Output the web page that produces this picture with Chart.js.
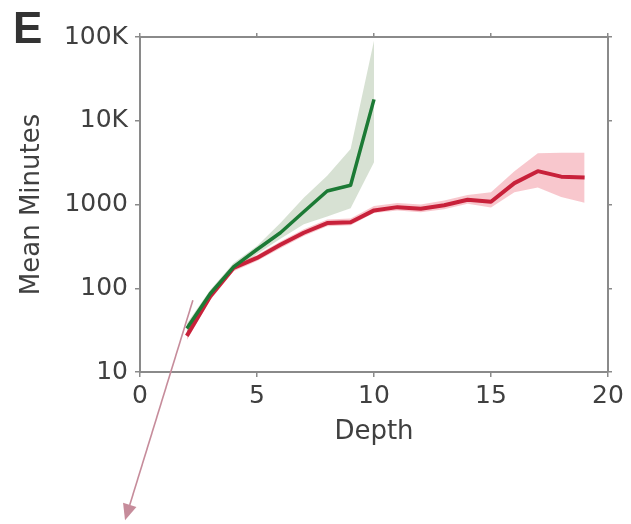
<!DOCTYPE html>
<html>
<head>
<meta charset="utf-8">
<script src="https://cdn.jsdelivr.net/npm/chart.js@4"></script>
<style>
  html, body { margin: 0; padding: 0; background: #fff; }
  #wrap { width: 631px; height: 524px; }
</style>
</head>
<body>
<div id="wrap"><canvas id="myChart" width="631" height="524"></canvas></div>
<script>
// datos
const depthGreen = [2, 3, 4, 5, 6, 7, 8, 9, 10];
const greenMean = [33, 86, 180, 290, 460, 820, 1450, 1700, 18000];
const greenLow = [29, 76, 165, 255, 390, 580, 720, 900, 3200];
const greenHigh = [38, 95, 200, 320, 600, 1200, 2200, 4600, 90000];

const depthRed = [2, 3, 4, 5, 6, 7, 8, 9, 10, 11, 12, 13, 14, 15, 16, 17, 18, 19];
const redMean = [27, 80, 175, 230, 330, 460, 600, 615, 850, 930, 890, 980, 1140, 1080, 1800, 2500, 2150, 2100];
const redLow = [24, 72, 160, 212, 300, 420, 550, 565, 790, 850, 810, 880, 1020, 920, 1400, 1600, 1230, 1050];
const redHigh = [31, 88, 192, 250, 362, 505, 660, 680, 960, 1040, 1000, 1120, 1300, 1400, 2500, 4100, 4150, 4150];

const xTicks = [0, 5, 10, 15, 20];
const yTickValues = [10, 100, 1000, 10000, 100000];
const yTickLabels = ["10", "100", "1000", "10K", "100K"];

// flecha de anotacion (en unidades de datos)
const arrowFrom = { x: 2.26, y: 72 };
const arrowTo = { x: -0.64, y: 0.17 };

(() => {
    const ctx = document.getElementById('myChart').getContext('2d');
    const toPts = (xs, ys) => xs.map((x, i) => ({ x: x, y: ys[i] }));

    const axisColor = '#8a8a8a';
    const textColor = '#404040';
    const fontFam = '"DejaVu Sans", sans-serif';

    const band = (data, color, fill) => ({
        data: data,
        borderWidth: 0,
        pointRadius: 0,
        backgroundColor: color,
        fill: fill,
        tension: 0
    });

    const extras = {
        id: 'extras',
        afterDraw(chart) {
            const c = chart.ctx;
            const xs = chart.scales.x, ys = chart.scales.y;
            // letra del panel
            c.save();
            c.fillStyle = '#333';
            c.font = 'bold 44px "Liberation Sans", sans-serif';
            c.textBaseline = 'alphabetic';
            c.fillText('E', 13, 43);
            // flecha
            const x1 = xs.getPixelForValue(arrowFrom.x), y1 = ys.getPixelForValue(arrowFrom.y);
            const x2 = xs.getPixelForValue(arrowTo.x), y2 = ys.getPixelForValue(arrowTo.y);
            const ang = Math.atan2(y2 - y1, x2 - x1);
            const headLen = 16, headW = 7;
            const bx = x2 - headLen * Math.cos(ang), by = y2 - headLen * Math.sin(ang);
            c.strokeStyle = '#c68c9b';
            c.fillStyle = '#c68c9b';
            c.lineWidth = 1.6;
            c.beginPath();
            c.moveTo(x1, y1);
            c.lineTo(bx, by);
            c.stroke();
            c.beginPath();
            c.moveTo(x2, y2);
            c.lineTo(bx + headW * Math.sin(ang), by - headW * Math.cos(ang));
            c.lineTo(bx - headW * Math.sin(ang), by + headW * Math.cos(ang));
            c.closePath();
            c.fill();
            c.restore();
        }
    };

    const grafica = new Chart(ctx, {
        type: 'line',
        data: {
            datasets: [
                Object.assign(band(toPts(depthGreen, greenHigh), 'rgba(175,195,168,0.5)', '+1'), { order: 5 }),
                Object.assign(band(toPts(depthGreen, greenLow), 'rgba(0,0,0,0)', false), { order: 5 }),
                Object.assign(band(toPts(depthRed, redHigh), 'rgba(240,130,145,0.45)', '+1'), { order: 4 }),
                Object.assign(band(toPts(depthRed, redLow), 'rgba(0,0,0,0)', false), { order: 4 }),
                {
                    data: toPts(depthRed, redMean),
                    borderColor: '#c8213a',
                    borderWidth: 4,
                    pointRadius: 0,
                    fill: false,
                    tension: 0,
                    borderJoinStyle: 'round',
                    order: 2
                },
                {
                    data: toPts(depthGreen, greenMean),
                    borderColor: '#1c7a35',
                    borderWidth: 3.5,
                    pointRadius: 0,
                    fill: false,
                    tension: 0,
                    borderJoinStyle: 'round',
                    order: 1
                }
            ]
        },
        options: {
            responsive: false,
            animation: false,
            events: [],
            layout: { padding: { left: 0, top: 37, right: 23, bottom: 72 } },
            plugins: {
                legend: { display: false },
                tooltip: { enabled: false }
            },
            scales: {
                x: {
                    type: 'linear',
                    position: 'bottom',
                    min: 0, max: 20,
                    afterBuildTicks: (s) => { s.ticks = xTicks.map(v => ({ value: v })); },
                    afterFit: (s) => { s.height = 80; },
                    grid: { drawOnChartArea: false, tickLength: 5, color: axisColor, lineWidth: 1.5 },
                    border: { color: axisColor, width: 2 },
                    ticks: { color: textColor, padding: 4, maxRotation: 0, font: { family: fontFam, size: 25 } },
                    title: { display: true, text: 'Depth', color: textColor, padding: { top: 0, bottom: 4 }, font: { family: fontFam, size: 26 } }
                },
                x2: {
                    type: 'linear',
                    position: 'top',
                    min: 0, max: 20,
                    afterBuildTicks: (s) => { s.ticks = xTicks.map(v => ({ value: v })); },
                    afterFit: (s) => { s.height = 0; },
                    grid: { drawOnChartArea: false, tickLength: 4, color: axisColor, lineWidth: 1.5 },
                    border: { color: axisColor, width: 2 },
                    ticks: { display: false }
                },
                y: {
                    type: 'logarithmic',
                    position: 'left',
                    min: 10, max: 100000,
                    afterBuildTicks: (s) => { s.ticks = yTickValues.map(v => ({ value: v })); },
                    afterFit: (s) => { s.width = 140; },
                    grid: { drawOnChartArea: false, tickLength: 5, color: axisColor, lineWidth: 1.5 },
                    border: { color: axisColor, width: 2 },
                    ticks: {
                        color: textColor, padding: 7,
                        font: { family: fontFam, size: 25 },
                        callback: (v, i) => yTickLabels[i]
                    },
                    title: { display: true, text: 'Mean Minutes', color: textColor, padding: { top: 17, bottom: 0 }, font: { family: fontFam, size: 26 } }
                },
                y2: {
                    type: 'logarithmic',
                    position: 'right',
                    min: 10, max: 100000,
                    afterBuildTicks: (s) => { s.ticks = yTickValues.map(v => ({ value: v })); },
                    afterFit: (s) => { s.width = 0; },
                    grid: { drawOnChartArea: false, tickLength: 4, color: axisColor, lineWidth: 1.5 },
                    border: { color: axisColor, width: 2 },
                    ticks: { display: false }
                }
            }
        },
        plugins: [extras]
    });
})();
</script>
</body>
</html>
